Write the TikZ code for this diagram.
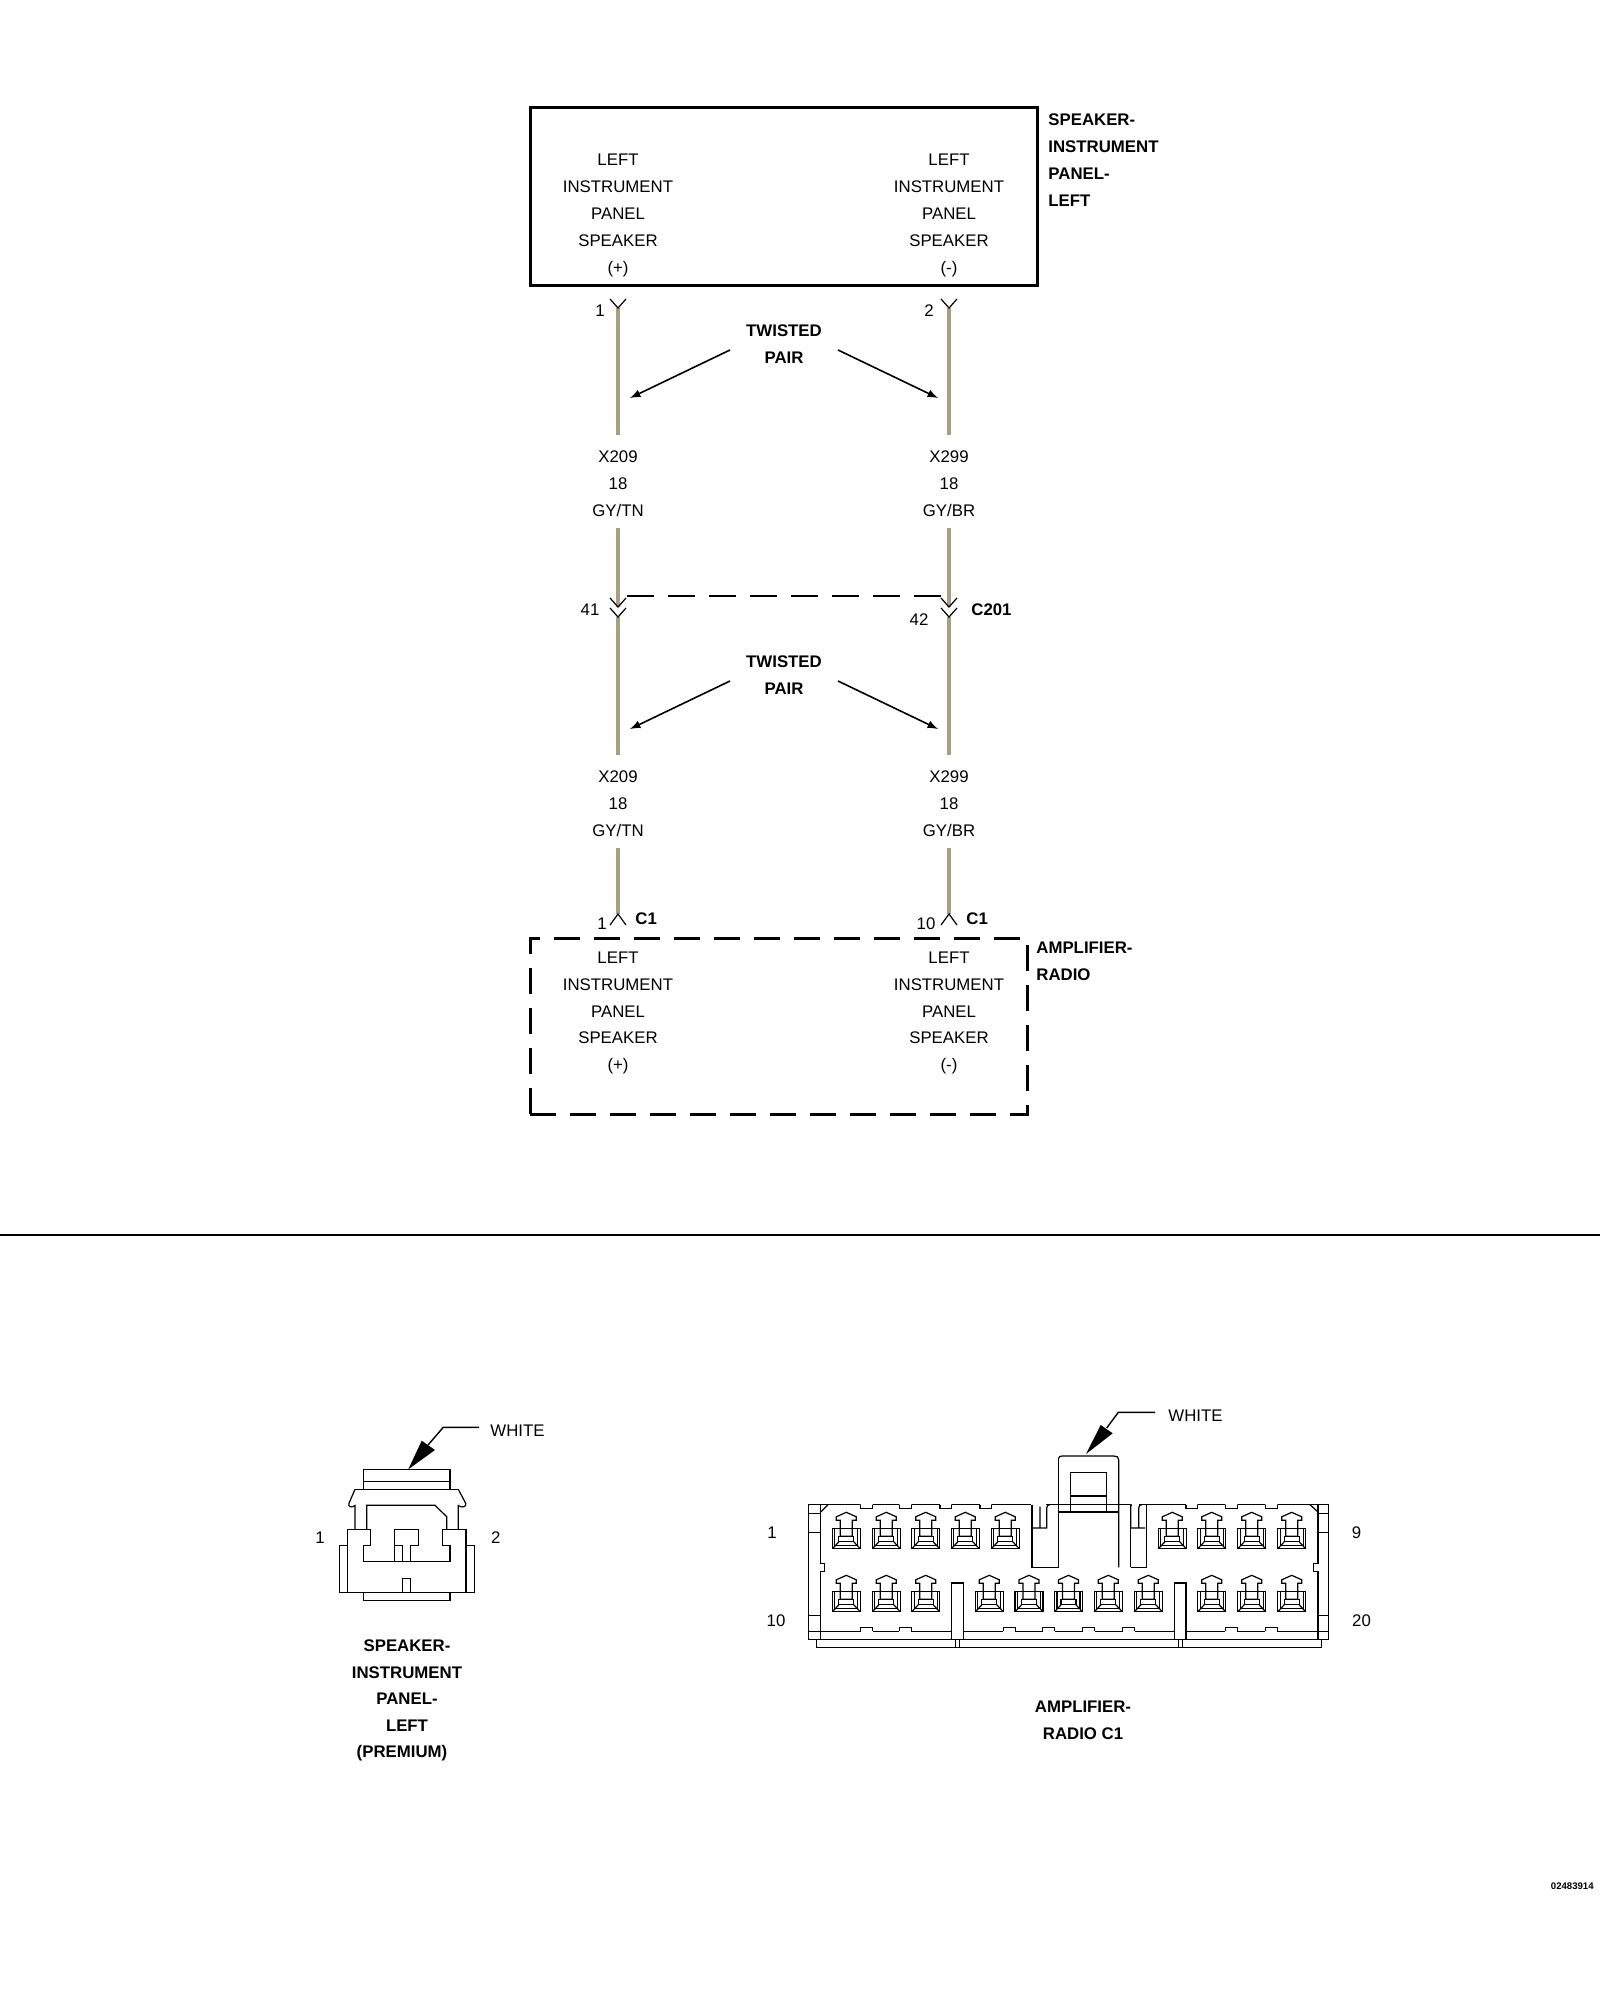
\documentclass[tikz,border=0pt]{standalone}
\usepackage{fontspec}
\setmainfont{Liberation Sans}
\usetikzlibrary{arrows,calc,positioning}
\definecolor{wiretan}{HTML}{A89E84}
\tikzset{
  lbl/.style={align=center,inner sep=0pt,font=\fontsize{8.4}{13.4}\selectfont},
  lblbold/.style={lbl,font=\fontsize{8.4}{13.4}\selectfont\bfseries},
  lblleft/.style={lblbold,align=left,anchor=west},
  panelbox/.style={draw,line width=1.5pt,inner sep=0pt,outer sep=0pt},
  wire/.style={draw=wiretan,line width=2pt},
  chev/.style={line width=0.6pt},
  twist/.style={->,>=latex,line width=0.8pt,shorten >=0pt,>={latex[scale=2]}},
  shape line/.style={line width=0.6pt,line join=miter},
  tag/.style={->,>=latex,line width=0.7pt},
}
% one cavity of the radio connector, the top of its arrow at (0,0)
\newcommand{\cavity}[2]{%
\begin{scope}[shift={(#1,#2)},shape line]
\draw (-6,8) -- (-10,8) -- (-10,4.5) -- (0,0) -- (10,4.5) -- (10,8) -- (6,8) -- (6,24) -- (-6,24) -- cycle;
\draw (-14,16) rectangle (14,36.5);
\draw (-11.5,16) -- (-11.5,33.5) -- (11.5,33.5) -- (11.5,16);
\draw (-6,24) -- (-7.5,24) -- (-7.5,29.5) -- (7.5,29.5) -- (7.5,24) -- (6,24);
\draw (-14,36.5) -- (-7.5,29.5) (14,36.5) -- (7.5,29.5);
\end{scope}}
\begin{document}
\begin{tikzpicture}[x=0.5pt,y=-0.5pt]
\useasboundingbox (0,0) rectangle (1600,2000);

% schematic
\node (spkbox) [panelbox,minimum width=253.5pt,minimum height=89pt] at (783.5,197) {};
\node (amp) [panelbox,minimum width=248.5pt,minimum height=88pt,dash pattern=on 13pt off 7pt] at (778.5,1026) {};
\node (spkL) [lbl] at (618,215.5) {LEFT\\INSTRUMENT\\PANEL\\SPEAKER\\(+)};
\node (spkR) [lbl] at (949,215.5) {LEFT\\INSTRUMENT\\PANEL\\SPEAKER\\(-)};
\node (ampL) [lbl] at (618,1013) {LEFT\\INSTRUMENT\\PANEL\\SPEAKER\\(+)};
\node (ampR) [lbl] at (949,1013) {LEFT\\INSTRUMENT\\PANEL\\SPEAKER\\(-)};
\node (spkname) [lblleft] at (1048,160) {SPEAKER-\\INSTRUMENT\\PANEL-\\LEFT};
\node (ampname) [lblleft] at (1036,961.5) {AMPLIFIER-\\RADIO};

\node (twistA) [lblbold] at (784,344) {TWISTED\\PAIR};
\node (twistB) [lblbold] at (784,675) {TWISTED\\PAIR};
\node (codeA1) [lbl] at (618,484) {X209\\18\\GY/TN};
\node (codeA2) [lbl] at (949,484) {X299\\18\\GY/BR};
\node (codeB1) [lbl] at (618,804) {X209\\18\\GY/TN};
\node (codeB2) [lbl] at (949,804) {X299\\18\\GY/BR};

\node (pin1) [lbl] at (600,311) {1};
\node (pin2) [lbl] at (929,311) {2};
\node (pin41) [lbl] at (590,610) {41};
\node (pin42) [lbl] at (919,620) {42};
\node (c201) [lblbold,anchor=west] at (971,610) {C201};
\node (pin1b) [lbl] at (602,924) {1};
\node (pin10) [lbl] at (926,924) {10};
\node (c1a) [lblbold,anchor=west] at (635,919) {C1};
\node (c1b) [lblbold,anchor=west] at (966,919) {C1};

% wires
\foreach \wx/\wn in {618/a,949/b}{
  \coordinate (t\wn) at (\wx,308);
  \coordinate (u\wn) at (\wx,435);
  \coordinate (v\wn) at (\wx,528);
  \coordinate (w\wn) at (\wx,607);
  \coordinate (p\wn) at (\wx,617);
  \coordinate (q\wn) at (\wx,755);
  \coordinate (r\wn) at (\wx,848);
  \coordinate (s\wn) at (\wx,914);
  \draw[wire] (t\wn) -- (u\wn);
  \draw[wire] (v\wn) -- (w\wn);
  \draw[wire] (p\wn) -- (q\wn);
  \draw[wire] (r\wn) -- (s\wn);
  \draw[chev] ($(t\wn)+(-8,-9)$) -- (t\wn) -- ($(t\wn)+(8,-9)$);
  \draw[chev] ($(w\wn)+(-8,-9)$) -- (w\wn) -- ($(w\wn)+(8,-9)$);
  \draw[chev] ($(p\wn)+(-8,-9)$) -- (p\wn) -- ($(p\wn)+(8,-9)$);
  \draw[chev] ($(s\wn)+(-8,11)$) -- (s\wn) -- ($(s\wn)+(8,11)$);
}
\coordinate (dashL) at (627,596);
\coordinate (dashR) at (941,596);
\draw[line width=0.6pt,dash pattern=on 13.5pt off 7pt] (dashL) -- (dashR);

% twisted pair arrows
\coordinate (armA1) at (730,350);
\coordinate (armA2) at (838,350);
\coordinate (armB1) at (730,681);
\coordinate (armB2) at (838,681);
\coordinate (endA1) at (630,398);
\coordinate (endA2) at (938,398);
\coordinate (endB1) at (630,729);
\coordinate (endB2) at (938,729);
\draw[twist] (armA1) -- (endA1);
\draw[twist] (armA2) -- (endA2);
\draw[twist] (armB1) -- (endB1);
\draw[twist] (armB2) -- (endB2);

% divider
\coordinate (divL) at (0,1235);
\coordinate (divR) at (1600,1235);
\draw[line width=0.8pt] (divL) -- (divR);

% left connector
\begin{scope}[shape line]
\draw (363.3,1469.3) rectangle (450,1489.3);
\draw (363.3,1481.3) -- (450,1481.3);
\draw (355,1489.3) -- (458.3,1489.3);
\draw (355,1489.3) -- (349,1503.3) .. controls (347.5,1506.5) and (351.5,1508.5) .. (355,1505.5) -- (355,1529.3);
\draw (458.3,1489.3) -- (465.7,1503.3) .. controls (467,1506.5) and (462,1508.5) .. (458.3,1505.5) -- (458.3,1529.3);
\draw (366.7,1529.3) -- (366.7,1505.3) -- (435,1505.3) -- (446.7,1516.7) -- (446.7,1529.3);
\draw (347.3,1592.3) -- (347.3,1529.3) -- (370.7,1529.3) -- (370.7,1545.3) -- (363.3,1545.3) -- (363.3,1561.3) -- (450,1561.3) -- (450,1545.3) -- (442.7,1545.3) -- (442.7,1529.3) -- (466,1529.3) -- (466,1592.3);
\draw (394.3,1561.3) -- (394.3,1545.3) -- (394.3,1545.3) -- (402.3,1545.3) (402.3,1561.3) -- (402.3,1545.3) -- (394.3,1545.3) -- (394.3,1529.3) -- (418.3,1529.3) -- (418.3,1545.3) -- (410.3,1545.3) -- (410.3,1561.3);
\draw (347.3,1545.3) -- (339.3,1545.3) -- (339.3,1592.3) -- (474.3,1592.3) -- (474.3,1545.3) -- (466,1545.3);
\draw (363.3,1592.3) -- (363.3,1600.3) -- (450,1600.3) -- (450,1592.3);
\draw (402.3,1592.3) -- (402.3,1578.3) -- (410.3,1578.3) -- (410.3,1592.3);
\end{scope}
\coordinate (tagLa) at (479,1427.3);
\coordinate (tagLb) at (443.3,1427.3);
\coordinate (tagLc) at (428,1445);
\coordinate (tagLtip) at (408.3,1469.3);
\draw[line width=0.7pt] (tagLa) -- (tagLb) -- (tagLc);
\fill (tagLtip) -- (421.7,1440.7) -- (435,1450) -- cycle;
\node (whiteL) [lbl,anchor=west] at (490,1431) {WHITE};
\node (conL1) [lbl] at (320,1537.7) {1};
\node (conL2) [lbl] at (495.7,1537.7) {2};
\node (conLname) [lblbold] at (407,1699) {SPEAKER-\\INSTRUMENT\\PANEL-\\LEFT\\};
\node (conLprem) [lblbold] at (402,1753) {(PREMIUM)};

% radio connector
\begin{scope}[shape line]
% shell
\draw (808.3,1504.7) rectangle (1328.7,1639.3);
\draw (820.7,1504.7) -- (820.7,1563.3) -- (824.7,1563.3) -- (824.7,1571.7) -- (820.7,1571.7) -- (820.7,1639.3);
\draw (1318,1504.7) -- (1318,1563.3) -- (1313.3,1563.3) -- (1313.3,1571.7) -- (1318,1571.7) -- (1318,1639.3);
\foreach \sy in {1513.3,1532.3,1615.7,1631.3}{
  \draw (808.3,\sy) -- (820.7,\sy);
  \draw (1318,\sy) -- (1328.7,\sy);
}
\draw (820.7,1512) -- (828,1504.7) (1318,1512) -- (1310,1504.7);
% notches along the top edge
\fill[white] (860.7,1503.5) rectangle (872.7,1505.9) (899.3,1503.5) rectangle (911.3,1505.9)
  (940,1503.5) rectangle (951.3,1505.9) (980,1503.5) rectangle (991.3,1505.9)
  (1186,1503.5) rectangle (1197.3,1505.9) (1225.3,1503.5) rectangle (1237.3,1505.9) (1265.3,1503.5) rectangle (1277.3,1505.9)
  (1031,1503.5) rectangle (1046,1505.9) (1130,1503.5) rectangle (1139,1505.9);
\foreach \nx/\nw in {860.7/872.7,899.3/911.3,940/951.3,980/991.3,1186/1197.3,1225.3/1237.3,1265.3/1277.3}{
  \draw (\nx,1504.7) -- (\nx,1508.3) -- (\nw,1508.3) -- (\nw,1504.7);
}
% key slots
\draw (1032,1504.7) -- (1032,1567.3) -- (1058.7,1567.3) -- (1058.7,1512);
\draw (1040,1506.7) -- (1040,1528) (1032,1528) -- (1046.7,1528) -- (1046.7,1508) .. controls (1046.7,1505.5) and (1048,1504.7) .. (1050,1504.7);
\draw (1130.7,1567.3) -- (1146.7,1567.3) -- (1146.7,1504.7);
\draw (1130.7,1567.3) -- (1130.7,1512) (1146.7,1567.3) -- (1146.7,1504.7) (1130.7,1567.3) -- (1146.7,1567.3);
\draw (1130.7,1504.7) -- (1130.7,1504.7);
\draw (1130,1504.7) .. controls (1132,1504.7) and (1131,1505) .. (1130.7,1506);
\draw (1130.7,1528) -- (1145,1528) (1130.7,1504.7) -- (1130.7,1528) (1138.7,1528) -- (1138.7,1508) .. controls (1138.7,1505.5) and (1140,1504.7) .. (1142,1504.7);
% latch on top
\draw[line width=0.9pt] (1058.7,1512) -- (1118.7,1512);
\draw (1058.7,1458) .. controls (1058.7,1457) and (1060,1456) .. (1062,1456) -- (1114,1456) .. controls (1117,1456) and (1118.7,1457) .. (1118.7,1460) -- (1118.7,1567.3);
\draw (1058.7,1458) -- (1058.7,1512);
\draw (1070.3,1512) -- (1070.3,1472.7) -- (1106.7,1472.7) -- (1106.7,1512);
\draw (1070.3,1496) -- (1106.7,1496);
% bottom strip
\draw (820.7,1631.3) -- (951.7,1631.3) (963.3,1631.3) -- (1175,1631.3) (1186.7,1631.3) -- (1318,1631.3);
\foreach \bx/\bw in {860.7/872.7,899.3/911.3,1003.3/1015.3,1042.7/1054.7,1082.7/1094.7,1122.7/1134.7,1225.3/1237.3,1265.3/1277.3}{
  \draw[white,line width=1.2pt] (\bx,1631.3) -- (\bw,1631.3);
  \draw (\bx,1631.3) -- (\bx,1627.3) -- (\bw,1627.3) -- (\bw,1631.3);
}
% posts
\draw[fill=white] (951.7,1639.3) -- (951.7,1583) -- (963.3,1583) -- (963.3,1639.3);
\draw[fill=white] (1174.7,1639.3) -- (1174.7,1583) -- (1186,1583) -- (1186,1639.3);
\draw (816.3,1639.3) -- (816.3,1647.3) -- (1321.7,1647.3) -- (1321.7,1639.3);
\draw (955.7,1639.3) -- (955.7,1647.3) (959.7,1639.3) -- (959.7,1647.3);
\draw (1178.3,1639.3) -- (1178.3,1647.3) (1182.3,1639.3) -- (1182.3,1647.3);
\end{scope}
\foreach \cx in {846.3,886.3,925.7,965.3,1005.3,1172.3,1211.7,1251.7,1291.7}{\cavity{\cx}{1512.3}}
\foreach \cx in {846.3,886.3,925.7,989.3,1029,1068.5,1108.3,1148.3,1211.7,1251.7,1291.7}{\cavity{\cx}{1575.3}}
\coordinate (tagRa) at (1155,1412.3);
\coordinate (tagRb) at (1118.3,1412.3);
\coordinate (tagRc) at (1106.7,1428);
\coordinate (tagRtip) at (1086,1454);
\draw[line width=0.7pt] (tagRa) -- (tagRb) -- (tagRc);
\fill (tagRtip) -- (1100.7,1425) -- (1112.7,1433.3) -- cycle;
\node (whiteR) [lbl,anchor=west] at (1168,1416) {WHITE};
\node (conR1) [lbl] at (772,1532.5) {1};
\node (conR10) [lbl] at (776,1620.5) {10};
\node (conR9) [lbl] at (1356.5,1532.5) {9};
\node (conR20) [lbl] at (1361.5,1620.5) {20};
\node (conRname) [lblbold] at (1083,1720.5) {AMPLIFIER-\\RADIO C1};
\node (partno) [lblbold,anchor=east,font=\fontsize{4.8}{6}\selectfont\bfseries] at (1594,1886) {02483914};
\end{tikzpicture}
\end{document}
